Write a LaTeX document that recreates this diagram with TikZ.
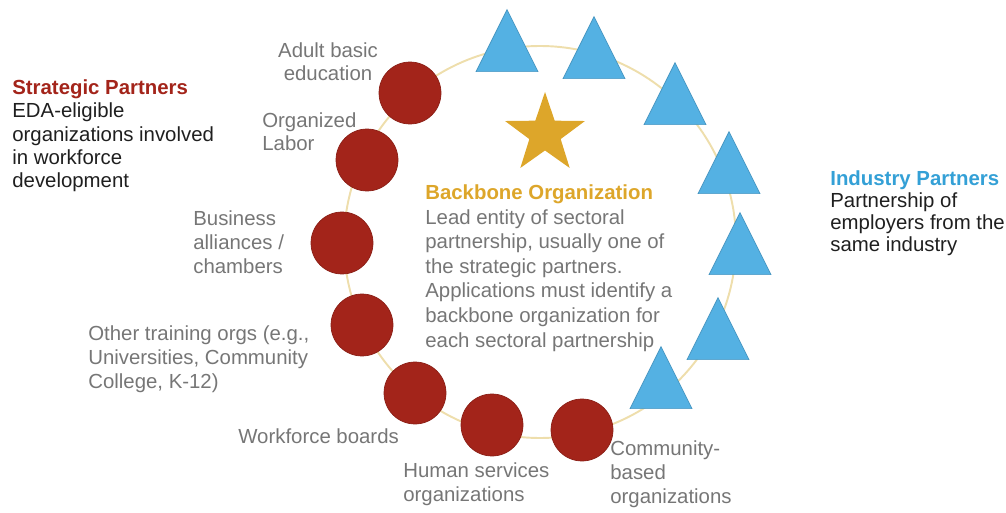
\documentclass[tikz,border=0pt]{standalone}
\usepackage{fontspec}
\setmainfont{Liberation Sans}
\usetikzlibrary{shapes.geometric}
\definecolor{partnerred}{RGB}{163,36,26}
\definecolor{industryblue}{RGB}{84,177,227}
\definecolor{industrytext}{RGB}{52,160,214}
\definecolor{backbonegold}{RGB}{221,166,42}
\definecolor{ringbeige}{RGB}{238,222,172}
\definecolor{labelgray}{RGB}{118,118,118}
\tikzset{
  org/.style={circle, fill=partnerred, draw=partnerred!85!black, line width=0.4pt,
              minimum size=1.24cm, inner sep=0pt},
  firm/.style={regular polygon, regular polygon sides=3, fill=industryblue,
               draw=industryblue!85!black, line width=0.4pt,
               minimum size=1.43cm, inner sep=0pt, yscale=1.155},
  % multi-line texts sit on the baseline of their last line
  note/.style={font=\fontsize{11.6}{13.6}\selectfont, align=left, inner sep=0pt,
               anchor=base west, text=labelgray},
  keytext/.style={note, font=\fontsize{11.6}{13.3}\selectfont, text=black!88},
  ring/.style={draw=ringbeige, line width=1.1pt},
}

\begin{document}
\begin{tikzpicture}[x=0.02cm, y=-0.02cm]
  \useasboundingbox (0,0) rectangle (1006,513);

  % the partnership ring
  \draw[ring] (540,242) circle[radius=196];

  % strategic partners
  \node[org] (adult) at (410,93) {};
  \node[org] (labor) at (367,160) {};
  \node[org] (business) at (342,243) {};
  \node[org] (training) at (362,325) {};
  \node[org] (boards) at (415,393) {};
  \node[org] (human) at (492,425) {};
  \node[org] (community) at (582,430) {};

  % industry partners
  \node[firm] (firmA) at (507,51) {};
  \node[firm] (firmB) at (594,58) {};
  \node[firm] (firmC) at (675,104) {};
  \node[firm] (firmD) at (729,173) {};
  \node[firm] (firmE) at (740,254) {};
  \node[firm] (firmF) at (718,339) {};
  \node[firm] (firmG) at (661,388) {};

  % backbone
  \node[star, star points=5, star point ratio=2.55, minimum size=1.68cm,
        inner sep=0pt, fill=backbonegold] (hub) at (545,134) {};

  \node[note, font=\fontsize{11.6}{14}\selectfont] (backbone) at (425,347)
    {{\bfseries\color{backbonegold}Backbone Organization}\\
     Lead entity of sectoral\\
     partnership, usually one of\\
     the strategic partners.\\
     Applications must identify a\\
     backbone organization for\\
     each sectoral partnership};

  % keys
  \node[keytext] (strategic) at (12,188)
    {{\bfseries\color{partnerred}Strategic Partners}\\EDA-eligible\\
     organizations involved\\in workforce\\development};
  \node[keytext, font=\fontsize{11.6}{12.4}\selectfont] (industry) at (830,251)
    {{\bfseries\color{industrytext}Industry Partners}\\Partnership of\\
     employers from the\\same industry};

  % partner labels
  \node[note, align=center, anchor=base] (adultlbl) at (328,81) {Adult basic\\education};
  \node[note] (laborlbl) at (262,151) {Organized\\Labor};
  \node[note] (businesslbl) at (193,273) {Business\\alliances /\\chambers};
  \node[note] (traininglbl) at (88,388)
    {Other training orgs (e.g.,\\Universities, Community\\College, K-12)};
  \node[note] (boardslbl) at (238,443) {Workforce boards};
  \node[note] (humanlbl) at (403,501) {Human services\\organizations};
  \node[note] (communitylbl) at (610,503) {Community-\\based\\organizations};
\end{tikzpicture}
\end{document}
